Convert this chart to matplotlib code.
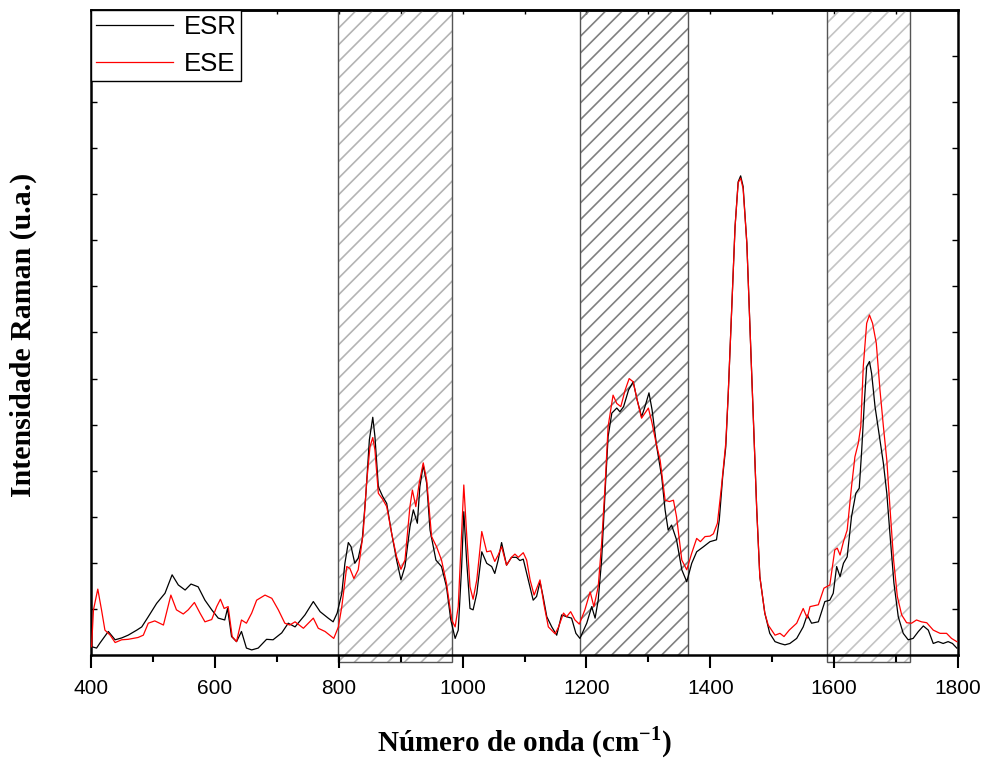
import matplotlib.pyplot as plt
from matplotlib.patches import Rectangle
import numpy as np

# ESR spectrum (black)
esr_x = [401, 409, 414.5, 428, 439, 449.5, 460, 474, 482, 492.5, 506, 519.5, 531, 541, 552,
         561.5, 573, 584, 595, 605.5, 616, 620.5, 627, 635, 643, 651, 659.5, 670, 683.5, 694,
         708, 718.5, 729.5, 745.5, 759, 770, 783, 791, 797.5, 805, 810, 815.5, 820, 826,
         831.5, 838, 844, 849.5, 855, 858.5, 864, 871, 877.5, 885.5, 893.5, 900.5, 907, 915,
         920.5, 927, 931, 936.5, 942, 947.5, 957, 966, 974, 981, 988, 993, 998.5, 1002,
         1006.5, 1012, 1017, 1023, 1031, 1039, 1047, 1052, 1057.5, 1063, 1071, 1079, 1087,
         1092.5, 1098, 1106, 1114, 1119.5, 1125, 1130, 1136, 1144, 1152, 1160, 1168, 1176,
         1183, 1189.5, 1200.5, 1208.5, 1214, 1219, 1224.5, 1230, 1235, 1241, 1249, 1254, 1260,
         1268, 1275.5, 1282, 1289, 1294.5, 1301, 1306, 1313.5, 1321.5, 1327, 1332, 1337.5,
         1345.5, 1354, 1362, 1370, 1378, 1389, 1399.5, 1410, 1414.5, 1420, 1425, 1429, 1434.5,
         1440, 1445, 1449, 1453, 1459, 1464, 1469.5, 1475, 1480, 1488, 1496, 1504.5, 1512.5,
         1520.5, 1528.5, 1539.5, 1550, 1556.5, 1563.5, 1574.5, 1585, 1593, 1598.5, 1604,
         1609.5, 1615, 1621, 1628, 1635, 1640.5, 1644.5, 1649, 1652.5, 1657, 1660.5, 1666,
         1674, 1679.5, 1685, 1690, 1696.5, 1703.5, 1711.5, 1719.5, 1727.5, 1736, 1744, 1752,
         1760, 1768, 1776, 1784, 1791, 1798]
esr_y = [0.18, 0.15, 0.26, 0.51, 0.33, 0.37, 0.43, 0.54, 0.61, 0.83, 1.12, 1.34, 1.74, 1.52, 1.41,
         1.54, 1.48, 1.19, 0.98, 0.80, 0.76, 1.01, 0.40, 0.29, 0.51, 0.15, 0.11, 0.15, 0.34, 0.33,
         0.48, 0.69, 0.61, 0.87, 1.16, 0.94, 0.80, 0.72, 0.91, 1.34, 1.99, 2.44, 2.35, 1.99,
         2.10, 2.50, 3.51, 4.67, 5.16, 4.74, 3.65, 3.44, 3.29, 2.64, 2.06, 1.63, 1.92, 2.78,
         3.15, 2.86, 3.65, 4.12, 3.73, 2.71, 2.06, 1.92, 1.48, 0.76, 0.36, 0.54, 1.92, 3.11,
         2.06, 1.01, 0.98, 1.34, 2.24, 1.99, 1.92, 1.77, 2.06, 2.44, 1.95, 2.12, 2.12,
         2.05, 2.08, 1.63, 1.19, 1.27, 1.59, 1.27, 0.83, 0.61, 0.43, 0.87, 0.83, 0.80,
         0.47, 0.36, 0.69, 1.05, 0.80, 1.19, 2.06, 3.51, 4.74, 5.25, 5.36, 5.28, 5.39,
         5.75, 5.93, 5.53, 5.17, 5.39, 5.69, 5.32, 4.52, 3.87, 3.15, 2.71, 2.82,
         2.50, 1.85, 1.59, 1.99, 2.24, 2.35, 2.46, 2.50, 2.93, 3.87, 4.52, 5.68, 7.49,
         9.30, 10.27, 10.40, 10.17, 8.94, 7.13, 5.10, 3.15, 1.70, 0.91, 0.47, 0.29, 0.25,
         0.22, 0.25, 0.36, 0.61, 0.87, 0.69, 0.72, 1.16, 1.19, 1.34, 1.92,
         1.70, 1.99, 2.13, 3.00, 3.51, 3.62, 4.45, 5.54, 6.26, 6.37, 6.11, 5.39,
         4.67, 4.16, 3.51, 2.64, 1.56, 0.83, 0.47, 0.33, 0.36, 0.51, 0.63, 0.54,
         0.25, 0.29, 0.25, 0.29, 0.25, 0.15]

# ESE spectrum (red)
ese_x = [401, 404, 411, 417, 422.5, 431, 439, 449.5, 460, 476, 484.5, 492.5, 503, 517, 529, 538,
         549, 557, 567, 576, 584, 595, 603, 609, 615, 621.5, 628, 635, 643, 651, 659.5, 667.5,
         681, 692, 702.5, 713, 721, 729.5, 743, 759, 767, 778, 792, 799.5, 805, 813, 818,
         824.5, 831.5, 839.5, 845, 850.5, 855, 858.5, 864, 871, 877.5, 885.5, 893.5, 900.5,
         907, 915, 919, 924.5, 930, 936.5, 942, 950, 958, 966, 974, 982.5, 988, 993, 998.5,
         1002, 1006.5, 1012, 1017, 1023, 1031, 1039, 1045.5, 1052, 1057.5, 1063, 1071, 1079,
         1084.5, 1090, 1098, 1103.5, 1109, 1115.5, 1125, 1131.5, 1138.5, 1149.5, 1155, 1163,
         1168, 1174.5, 1181.5, 1188.5, 1197.5, 1206, 1212, 1219, 1224.5, 1230, 1235, 1243,
         1249, 1255.5, 1262.5, 1269, 1275.5, 1282, 1289, 1294.5, 1300, 1305.5, 1312.5, 1319,
         1327, 1334, 1340.5, 1345.5, 1354, 1362, 1370, 1378, 1384, 1391.5, 1399.5, 1405,
         1411.5, 1418, 1425, 1429, 1434.5, 1440, 1445, 1449, 1453, 1459, 1464, 1469.5, 1475,
         1480, 1488, 1493.5, 1504.5, 1512.5, 1519, 1527.5, 1539.5, 1550, 1556.5, 1561, 1574.5,
         1583.5, 1593, 1601, 1605, 1609.5, 1615, 1621, 1628, 1633.5, 1639, 1643, 1647, 1652.5,
         1657, 1662, 1668, 1674, 1679.5, 1685, 1690, 1696, 1702, 1709, 1717, 1725, 1733, 1741,
         1749.5, 1760, 1771, 1781.5, 1789.5, 1798]
ese_y = [0.18, 0.98, 1.43, 0.98, 0.54, 0.43, 0.27, 0.33, 0.34, 0.38, 0.43, 0.69, 0.74, 0.65, 1.30, 0.98,
         0.89, 0.98, 1.14, 0.91, 0.72, 0.77, 1.05, 1.21, 1.01, 1.05, 0.40, 0.29, 0.76, 0.69, 0.91, 1.19,
         1.30, 1.23, 0.98, 0.69, 0.65, 0.72, 0.58, 0.80, 0.58, 0.51, 0.36, 0.61, 1.05, 1.92, 1.88,
         1.66, 1.85, 2.64, 3.73, 4.52, 4.72, 4.45, 3.51, 3.38, 3.22, 2.64, 2.13, 1.86,
         2.06, 3.22, 3.58, 3.22, 3.73, 4.17, 3.80, 2.57, 2.35, 2.06, 1.56, 0.76, 0.61, 1.05, 2.64,
         3.69, 2.64, 1.48, 1.21, 1.63, 2.68, 2.24, 2.26, 2.03, 2.17, 2.35, 1.95, 2.12,
         2.19, 2.12, 2.22, 2.06, 1.63, 1.30, 1.63, 1.09, 0.61, 0.46, 0.61, 0.91,
         0.83, 0.94, 0.76, 0.67, 0.98, 1.37, 1.05, 1.48, 2.42, 3.65, 4.96, 5.64,
         5.46, 5.39, 5.75, 6.00, 5.93, 5.53, 5.14, 5.25, 5.36, 5.06, 4.60, 4.23,
         3.36, 3.33, 3.36, 3.00, 2.06, 1.85, 2.21, 2.53, 2.46, 2.57, 2.58, 2.63,
         2.86, 3.65, 4.60, 5.68, 7.49, 9.30, 10.25, 10.35, 10.12, 8.94, 7.13, 5.10, 3.15,
         1.70, 0.91, 0.65, 0.43, 0.47, 0.40, 0.54, 0.69, 1.01, 0.80, 1.05, 1.09,
         1.45, 1.52, 2.28, 2.32, 2.17, 2.46, 2.71, 3.65, 4.30, 4.60, 4.96, 6.26, 7.20,
         7.38, 7.20, 6.77, 5.75, 4.96, 4.23, 3.22, 2.06, 1.27, 0.87, 0.70, 0.69, 0.76, 0.72,
         0.70, 0.54, 0.47, 0.47, 0.36, 0.29]

# highlighted bands: (start, end, hatch colour, extends below axis)
band_start = [799, 1190, 1588]
band_end = [983, 1364, 1722]
band_hatch = ['#b4b4b4', '#808080', '#c4c4c4']
band_below = [True, False, True]

plt.rcParams['hatch.linewidth'] = 1.2
plt.rcParams['mathtext.fontset'] = 'custom'
plt.rcParams['mathtext.rm'] = 'Liberation Serif:bold'
plt.rcParams['mathtext.bf'] = 'Liberation Serif:bold'

fig = plt.figure(figsize=(9.9, 7.58), dpi=100)
ax = fig.add_axes([0.0919, 0.1359, 0.8758, 0.8509])

ymin, ymax = 0, 14
for x0, x1, hc, below in zip(band_start, band_end, band_hatch, band_below):
    y0 = -0.15 if below else 0
    ax.add_patch(Rectangle((x0, y0), x1 - x0, ymax - y0, facecolor='none', edgecolor=hc,
                           hatch='//', linewidth=0, clip_on=False, zorder=1))
    ax.add_patch(Rectangle((x0, y0), x1 - x0, ymax - y0, fill=False, edgecolor='#555555',
                           linewidth=1.0, clip_on=False, zorder=1.5))

ax.plot(esr_x, esr_y, color='black', lw=0.9, label='ESR', zorder=3)
ax.plot(ese_x, ese_y, color='red', lw=0.9, label='ESE', zorder=3)

ax.set_xlim(400, 1800)
ax.set_ylim(ymin, ymax)
ax.set_xticks(np.arange(400, 1801, 200))
ax.set_xticks(np.arange(500, 1800, 200), minor=True)
ax.set_yticks(np.arange(1, 14))
ax.set_yticklabels([])
ax.tick_params(axis='x', which='major', direction='out', length=9, width=1.5,
               labelsize=15, pad=8)
ax.tick_params(axis='x', which='minor', direction='out', length=5, width=1.5)
ax.tick_params(axis='y', direction='in', length=4, width=1, left=True, right=True)
for lab in ax.get_xticklabels():
    lab.set_fontfamily('Liberation Sans')
for sp in ax.spines.values():
    sp.set_linewidth(1.8)

# small inward ticks on top spine
top = ax.secondary_xaxis('top')
top.set_xticks(np.arange(400, 1801, 100))
top.tick_params(direction='in', length=3, width=1, labeltop=False)
top.spines['top'].set_linewidth(1.8)

ax.set_xlabel('Número de onda (cm$^{\\mathbf{-1}}$)', fontsize=21, fontweight='bold',
              fontfamily='Liberation Serif', labelpad=19)
fig.text(23 / 990, 1 - 335 / 758, 'Intensidade Raman (u.a.)', rotation=90,
         ha='center', va='center', fontsize=21.5, fontweight='bold',
         fontfamily='Liberation Serif')

leg = ax.legend(loc='upper left', bbox_to_anchor=(0, 1), borderaxespad=0,
                prop={'family': 'Liberation Sans', 'size': 18.5}, handlelength=3.0,
                fancybox=False, edgecolor='black', framealpha=1, borderpad=0.2,
                labelspacing=0.5, handletextpad=0.4)
leg.get_frame().set_linewidth(1.0)

fig.savefig('out.png', dpi=100)
